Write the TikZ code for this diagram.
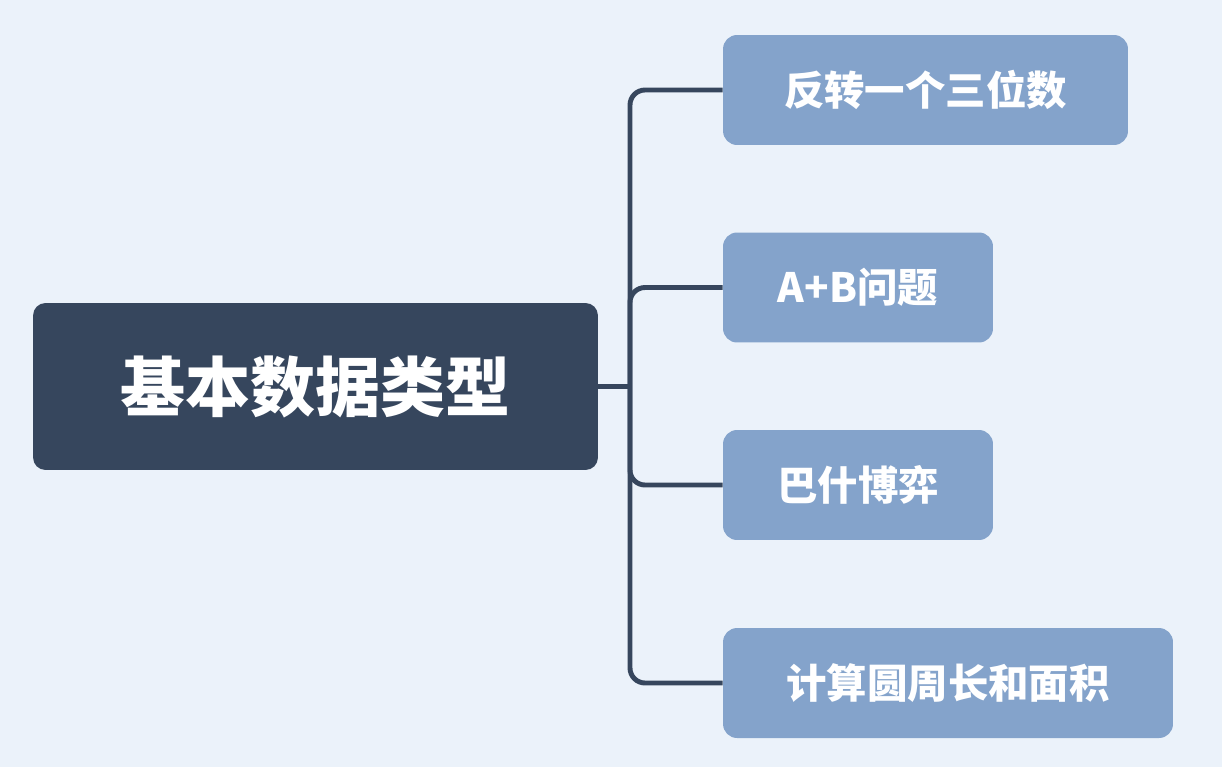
\documentclass[tikz,border=0pt]{standalone}
\usepackage{fontspec}
\newfontfamily\cjk{Noto Sans CJK SC}
\definecolor{bg}{HTML}{EBF2FA}
\definecolor{dark}{HTML}{36465D}
\definecolor{leaf}{HTML}{84A3CB}
\begin{document}
\begin{tikzpicture}[x=0.02cm,y=-0.02cm,
  rootbox/.style={fill=dark,rounded corners=0.25cm,text=white,font=\cjk\bfseries\fontsize{37}{40}\selectfont,inner sep=0pt},
  leafbox/.style={fill=leaf,rounded corners=0.28cm,text=white,font=\cjk\bfseries\fontsize{23}{26}\selectfont,inner sep=0pt},
  link/.style={draw=dark,line width=2.8pt,rounded corners=0.3cm}]
\fill[bg] (0,0) rectangle (1222,767);
\useasboundingbox (0,0) rectangle (1222,767);
\node[rootbox,minimum width=11.3cm,minimum height=3.34cm] (r) at (315.5,386.5) {基本数据类型};
\node[leafbox,minimum width=8.1cm,minimum height=2.2cm] (a) at (925.5,90) {反转一个三位数};
\node[leafbox,minimum width=5.4cm,minimum height=2.2cm] (b) at (858,287.5) {A+B问题};
\node[leafbox,minimum width=5.4cm,minimum height=2.2cm] (c) at (858,485) {巴什博弈};
\node[leafbox,minimum width=9.0cm,minimum height=2.2cm] (d) at (948,683) {计算圆周长和面积};
\coordinate (j) at (630,386.5);
\draw[link] (r.east) -- (j);
\draw[link] (a.west) -| (j) |- (d.west);
\draw[link] (b.west) -| (j) |- (c.west);
\end{tikzpicture}
\end{document}
